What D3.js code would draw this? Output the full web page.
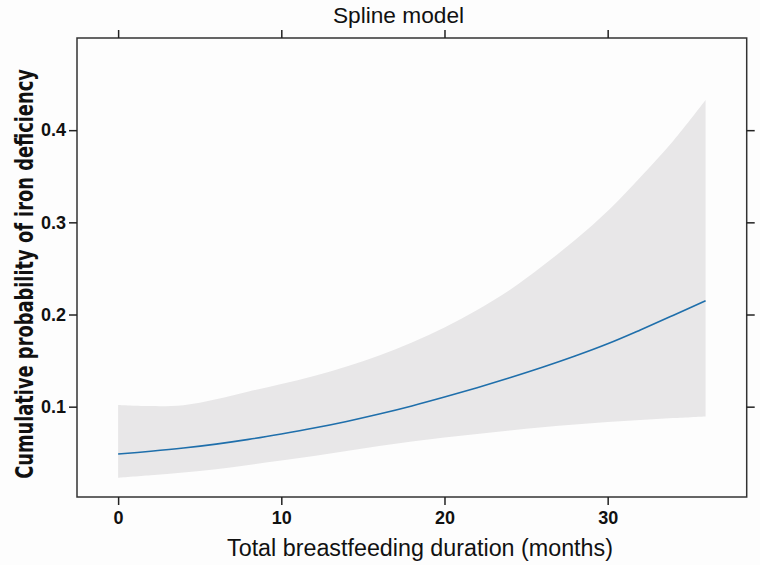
<!DOCTYPE html>
<html>
<head>
<meta charset="utf-8">
<script src="https://cdn.jsdelivr.net/npm/d3@7"></script>
<style>
  html, body { margin: 0; padding: 0; background: #fdfdfd; }
  svg { display: block; }
</style>
</head>
<body>
<div id="chart"></div>
<script>
// ---- data ----
const months = [0, 2, 4, 6, 8, 10, 12, 14, 16, 18, 20, 22, 24, 26, 28, 30, 32, 34, 36];
const fitProb = [0.0486, 0.0516, 0.0551, 0.0594, 0.0645, 0.0704, 0.0768, 0.0840, 0.0920, 0.1008,
                 0.1104, 0.1206, 0.1314, 0.1428, 0.1550, 0.1683, 0.1833, 0.1990, 0.2150];
const upperProb = [0.1018, 0.1006, 0.1016, 0.1080, 0.1165, 0.1246, 0.1333, 0.1436, 0.1555, 0.1696,
                   0.1859, 0.2049, 0.2266, 0.2526, 0.2808, 0.3123, 0.3490, 0.3880, 0.4327];
const lowerProb = [0.0230, 0.0257, 0.0286, 0.0321, 0.0368, 0.0416, 0.0465, 0.0520, 0.0574, 0.0623,
                   0.0666, 0.0704, 0.0742, 0.0778, 0.0807, 0.0834, 0.0856, 0.0876, 0.0894];
const xTicks = [0, 10, 20, 30];
const yTicks = [0.1, 0.2, 0.3, 0.4];
const titleText = "Spline model";
const xLabel = "Total breastfeeding duration (months)";
const yLabel = "Cumulative probability of iron deficiency";

// ---- layout ----
const W = 760, H = 565;
const pL = 77, pR = 746.7, pT = 38, pB = 497;

const svg = d3.select("#chart").append("svg")
  .attr("width", W).attr("height", H);

svg.append("rect").attr("width", W).attr("height", H).attr("fill", "#fdfdfd");

const x = d3.scaleLinear().domain([-2.52, 38.52]).range([pL, pR]);
const y = d3.scaleLinear().domain([0.002, 0.5]).range([pB, pT]);

const rows = months.map((m, i) => ({ m, fit: fitProb[i], lo: lowerProb[i], hi: upperProb[i] }));

// confidence band
svg.append("path")
  .datum(rows)
  .attr("fill", "#e8e7e8")
  .attr("stroke", "none")
  .attr("d", d3.area()
    .x(d => x(d.m))
    .y0(d => y(d.lo))
    .y1(d => y(d.hi))
    .curve(d3.curveCatmullRom));

// fitted line
svg.append("path")
  .datum(rows)
  .attr("fill", "none")
  .attr("stroke", "#1f6fab")
  .attr("stroke-width", 1.6)
  .attr("d", d3.line()
    .x(d => x(d.m))
    .y(d => y(d.fit))
    .curve(d3.curveCatmullRom));

// frame
svg.append("rect")
  .attr("x", pL).attr("y", pT)
  .attr("width", pR - pL).attr("height", pB - pT)
  .attr("fill", "none").attr("stroke", "#333").attr("stroke-width", 1.5);

const tickLen = 8;
function styleAxis(g) {
  g.select(".domain").remove();
  g.selectAll(".tick line").attr("stroke", "#222").attr("stroke-width", 1.5);
  g.selectAll(".tick text")
    .attr("fill", "#111")
    .style("font-family", "'Liberation Sans', Arial, Helvetica, sans-serif")
    .style("font-weight", "bold")
    .style("font-size", "18px");
}

// bottom axis
svg.append("g")
  .attr("transform", `translate(0,${pB})`)
  .call(d3.axisBottom(x).tickValues(xTicks).tickFormat(d3.format("d")).tickSize(tickLen).tickPadding(6))
  .call(styleAxis);

// top axis (ticks only)
svg.append("g")
  .attr("transform", `translate(0,${pT})`)
  .call(d3.axisTop(x).tickValues(xTicks).tickFormat("").tickSize(tickLen))
  .call(styleAxis);

// left axis
svg.append("g")
  .attr("transform", `translate(${pL},0)`)
  .call(d3.axisLeft(y).tickValues(yTicks).tickFormat(d3.format(".1f")).tickSize(tickLen).tickPadding(3))
  .call(styleAxis);

// right axis (ticks only)
svg.append("g")
  .attr("transform", `translate(${pR},0)`)
  .call(d3.axisRight(y).tickValues(yTicks).tickFormat("").tickSize(tickLen))
  .call(styleAxis);

// title
svg.append("text")
  .attr("x", 398.5).attr("y", 23)
  .attr("text-anchor", "middle")
  .attr("fill", "#111")
  .style("font-family", "'Liberation Sans', Arial, Helvetica, sans-serif")
  .style("font-size", "22.7px")
  .text(titleText);

// x label
svg.append("text")
  .attr("x", 420).attr("y", 556)
  .attr("text-anchor", "middle")
  .attr("fill", "#111")
  .style("font-family", "'Liberation Sans', Arial, Helvetica, sans-serif")
  .style("font-size", "23.3px")
  .text(xLabel);

// y label (condensed bold): tall glyphs, horizontally compressed to the reference length
const yLab = svg.append("text")
  .attr("transform", "translate(33,274) rotate(-90)")
  .attr("text-anchor", "middle")
  .attr("fill", "#111")
  .style("font-family", "'Liberation Sans Narrow', 'DejaVu Sans Condensed', 'Liberation Sans', sans-serif")
  .style("font-weight", "bold")
  .style("font-size", "25px")
  .text(yLabel);
const natural = yLab.node().getComputedTextLength();
if (natural > 0) {
  const sx = Math.min(1, 410 / natural);
  yLab.attr("transform", `translate(33,274) rotate(-90) scale(${sx},1)`);
}
</script>
</body>
</html>
